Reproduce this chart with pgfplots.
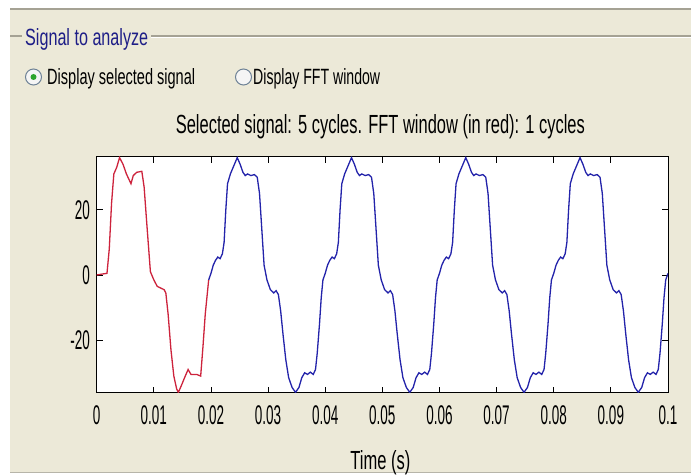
\documentclass[border=0pt]{standalone}
\usepackage{fontspec}
\setmainfont{Liberation Sans}
\newfontfamily\tickfont{Liberation Sans}[FakeStretch=0.5]
\usepackage{pgfplots}
\pgfplotsset{compat=1.18}
\definecolor{bg}{RGB}{236,233,216}
\definecolor{frameline}{RGB}{165,162,148}
\definecolor{navy}{RGB}{30,30,135}
\definecolor{mred}{RGB}{205,35,60}
\definecolor{mblue}{RGB}{35,35,170}
\definecolor{radioedge}{RGB}{110,130,150}
\definecolor{radiodot}{RGB}{45,165,45}
\newcommand\lbl{\tickfont\fontsize{27pt}{29pt}\selectfont}
\begin{document}
\begin{tikzpicture}
\useasboundingbox (0pt,0pt) rectangle (691pt,476pt);
\fill[white] (0pt,0pt) rectangle (691pt,476pt);
\fill[bg] (10pt,3pt) rectangle (691pt,467pt);
\draw[frameline, line width=1.6pt] (10pt,467pt) -- (691pt,467pt);
\draw[frameline!80!white, line width=1pt] (10pt,3pt) -- (691pt,3pt);
% group box
\draw[frameline, line width=1.2pt] (10pt,440pt) -- (22pt,440pt);
\draw[frameline, line width=1.2pt] (151pt,440pt) -- (691pt,440pt);
\draw[white, line width=1pt] (151pt,438.6pt) -- (691pt,438.6pt);
\node[anchor=base west, inner sep=0pt, text=navy] at (25pt,430pt) {\resizebox{123pt}{17pt}{Signal to analyze}};
% radio buttons
\draw[radioedge, fill=white!92!gray, line width=1pt] (33.5pt,399pt) circle (8pt);
\fill[radiodot] (33.5pt,399pt) circle (3pt);
\node[anchor=base west, inner sep=0pt] at (47pt,391pt) {\resizebox{148pt}{16pt}{Display selected signal}};
\draw[radioedge, fill=white!92!gray, line width=1pt] (243.5pt,399pt) circle (8pt);
\node[anchor=base west, inner sep=0pt] at (253pt,391pt) {\resizebox{127pt}{16pt}{Display FFT window}};
\begin{axis}[
  at={(96.7pt,83pt)}, anchor=south west,
  width=571.3pt, height=236pt, scale only axis,
  xmin=0, xmax=0.1, ymin=-36.2, ymax=36.2,
  axis background/.style={fill=white},
  axis line style={black, line width=1pt},
  tick align=inside, tick pos=both, major tick length=6pt,
  every tick/.style={black, line width=0.9pt},
  xtick={0,0.01,0.02,0.03,0.04,0.05,0.06,0.07,0.08,0.09,0.1},
  xticklabels={0,0.01,0.02,0.03,0.04,0.05,0.06,0.07,0.08,0.09,0.1},
  ytick={-20,0,20},
  yticklabels={-20,0,20},
  xticklabel style={font=\lbl, inner sep=0pt, anchor=north, yshift=-12pt},
  yticklabel style={font=\lbl, inner sep=0pt, anchor=east, xshift=-6.5pt},
  title={\resizebox{409pt}{19pt}{Selected signal: 5 cycles. FFT window (in red): 1 cycles}},
  title style={at={(axis description cs:0.5,1)}, anchor=base, inner sep=0pt, yshift=17pt, xshift=-2pt},
  xlabel={\resizebox{60pt}{19pt}{Time (s)}},
  xlabel style={at={(axis description cs:0.5,0)}, anchor=base, inner sep=0pt, yshift=-77pt, xshift=-2pt},
]
\addplot[mred, line width=1.3pt] coordinates {
(0,0) (0.0010,0.3) (0.0018,0.5) (0.0022,8) (0.0026,22) (0.0030,31) (0.0035,33) (0.0040,36) (0.0046,34) (0.0052,31) (0.0060,28) (0.0064,30.5) (0.0070,31.5) (0.0079,31.8) (0.0083,27) (0.0088,15) (0.0094,1) (0.0100,-1.5) (0.0106,-3.5) (0.0112,-4) (0.0118,-4.5) (0.0121,-5.5) (0.0125,-12) (0.0130,-23) (0.0135,-31) (0.0140,-35) (0.0143,-36) (0.0148,-34) (0.0155,-31) (0.0160,-29) (0.0165,-30.5) (0.0175,-30.5) (0.0182,-31) (0.0186,-22) (0.0190,-12) (0.0196,-1.5)
};
\addplot[mblue, line width=1.3pt] coordinates {
(0.0196,-1.5) (0.0200,0.5) (0.0204,3) (0.0208,4.5) (0.0212,5.5) (0.0216,5) (0.0220,6.5) (0.0223,10) (0.0226,20) (0.0229,28) (0.0234,31) (0.0240,33.5) (0.0246,36) (0.0251,34) (0.0256,31.5) (0.0260,30.5) (0.0264,31) (0.0270,30.5) (0.0276,30.8) (0.0281,30) (0.0285,25) (0.0289,14) (0.0293,3) (0.0298,-1.5) (0.0304,-4.5) (0.0310,-5.5) (0.0314,-4.8) (0.0318,-6) (0.0322,-11) (0.0326,-18) (0.0331,-26) (0.0336,-31.5) (0.0342,-34.5) (0.0348,-36) (0.0354,-34.5) (0.0359,-31.5) (0.0364,-30) (0.0369,-30.5) (0.0374,-29.8) (0.0379,-30.5) (0.0383,-29) (0.0386,-24) (0.0390,-15) (0.0393,-7) (0.0396,-1.5)
(0.0400,0.5) (0.0404,3) (0.0408,4.5) (0.0412,5.5) (0.0416,5) (0.0420,6.5) (0.0423,10) (0.0426,20) (0.0429,28) (0.0434,31) (0.0440,33.5) (0.0446,36) (0.0451,34) (0.0456,31.5) (0.0460,30.5) (0.0464,31) (0.0470,30.5) (0.0476,30.8) (0.0481,30) (0.0485,25) (0.0489,14) (0.0493,3) (0.0498,-1.5) (0.0504,-4.5) (0.0510,-5.5) (0.0514,-4.8) (0.0518,-6) (0.0522,-11) (0.0526,-18) (0.0531,-26) (0.0536,-31.5) (0.0542,-34.5) (0.0548,-36) (0.0554,-34.5) (0.0559,-31.5) (0.0564,-30) (0.0569,-30.5) (0.0574,-29.8) (0.0579,-30.5) (0.0583,-29) (0.0586,-24) (0.0590,-15) (0.0593,-7) (0.0596,-1.5)
(0.0600,0.5) (0.0604,3) (0.0608,4.5) (0.0612,5.5) (0.0616,5) (0.0620,6.5) (0.0623,10) (0.0626,20) (0.0629,28) (0.0634,31) (0.0640,33.5) (0.0646,36) (0.0651,34) (0.0656,31.5) (0.0660,30.5) (0.0664,31) (0.0670,30.5) (0.0676,30.8) (0.0681,30) (0.0685,25) (0.0689,14) (0.0693,3) (0.0698,-1.5) (0.0704,-4.5) (0.0710,-5.5) (0.0714,-4.8) (0.0718,-6) (0.0722,-11) (0.0726,-18) (0.0731,-26) (0.0736,-31.5) (0.0742,-34.5) (0.0748,-36) (0.0754,-34.5) (0.0759,-31.5) (0.0764,-30) (0.0769,-30.5) (0.0774,-29.8) (0.0779,-30.5) (0.0783,-29) (0.0786,-24) (0.0790,-15) (0.0793,-7) (0.0796,-1.5)
(0.0800,0.5) (0.0804,3) (0.0808,4.5) (0.0812,5.5) (0.0816,5) (0.0820,6.5) (0.0823,10) (0.0826,20) (0.0829,28) (0.0834,31) (0.0840,33.5) (0.0846,36) (0.0851,34) (0.0856,31.5) (0.0860,30.5) (0.0864,31) (0.0870,30.5) (0.0876,30.8) (0.0881,30) (0.0885,25) (0.0889,14) (0.0893,3) (0.0898,-1.5) (0.0904,-4.5) (0.0910,-5.5) (0.0914,-4.8) (0.0918,-6) (0.0922,-11) (0.0926,-18) (0.0931,-26) (0.0936,-31.5) (0.0942,-34.5) (0.0948,-36) (0.0954,-34.5) (0.0959,-31.5) (0.0964,-30) (0.0969,-30.5) (0.0974,-29.8) (0.0979,-30.5) (0.0983,-29) (0.0986,-24) (0.0990,-15) (0.0993,-7) (0.0996,-1.5) (0.1000,0.5)
};
\end{axis}
\end{tikzpicture}
\end{document}
